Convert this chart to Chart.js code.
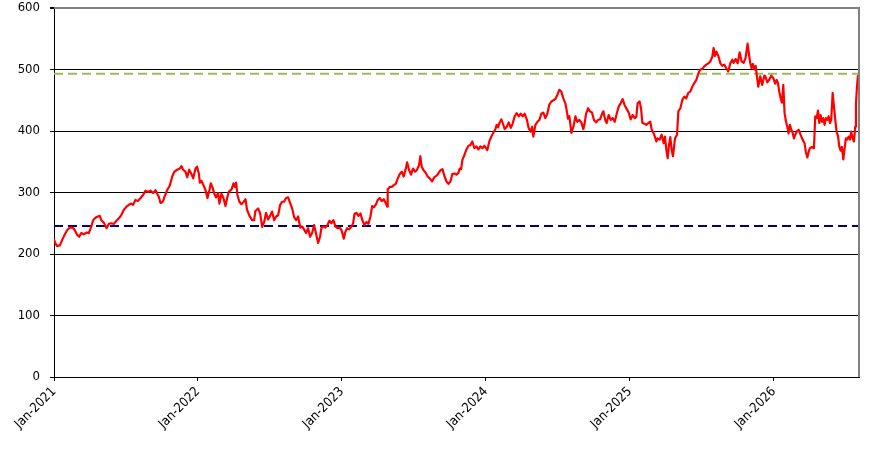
<!DOCTYPE html>
<html>
<head>
<meta charset="utf-8">
<script src="https://cdn.jsdelivr.net/npm/chart.js@4.4.1/dist/chart.umd.min.js"></script>
<style>
html,body{margin:0;padding:0;background:#fff;}
canvas{display:block;}
</style>
</head>
<body>
<canvas id="c" width="883" height="449"></canvas>
<script>
// ---- data ----
const startYear = 2021;
const endOffset = 5.592;            // last date shown (~Aug 2026), in years after Jan 2021
const tickYears = [2021, 2022, 2023, 2024, 2025, 2026];
const yTicks = [0, 100, 200, 300, 400, 500, 600];
const lowLevel = 245.5;             // blue dashed reference line
const highLevel = 493;              // green dashed reference line

// time in years after 1 Jan 2021, price
const t2021 = [0.000,0.010,0.022,0.041,0.057,0.073,0.092,0.110,0.129,0.142,0.161,0.175,0.189,0.207,0.226,0.242,0.258,0.272,0.288,0.304,0.318,0.328,0.346,0.365,0.381,0.397,0.416,0.434,0.450,0.467,0.485,0.504,0.520,0.536,0.550,0.566,0.582,0.601,0.619,0.635,0.652,0.670,0.689,0.705,0.717,0.728,0.740,0.756,0.767,0.786,0.804,0.821,0.837,0.855,0.874,0.885,0.897,0.913,0.925,0.939,0.953,0.967,0.983,0.994,1.006,1.013];
const v2021 = [224,217,213,214,223,231,239,243,243,240,231,228,234,232,235,234,244,255,259,261,262,255,251,242,249,250,249,254,258,263,272,277,280,282,280,288,286,291,296,303,301,303,299,304,298,293,283,285,293,304,311,326,334,337,339,343,337,334,325,337,331,323,339,342,331,316];

const t2022 = [1.024,1.038,1.052,1.066,1.080,1.089,1.103,1.112,1.126,1.140,1.149,1.163,1.177,1.191,1.203,1.214,1.233,1.247,1.256,1.265,1.274,1.288,1.302,1.318,1.330,1.341,1.358,1.376,1.390,1.399,1.418,1.432,1.446,1.460,1.473,1.487,1.501,1.515,1.529,1.543,1.557,1.571,1.585,1.598,1.612,1.626,1.640,1.654,1.668,1.682,1.696,1.710,1.723,1.737,1.751,1.765,1.779,1.793,1.807,1.821,1.835,1.848,1.858,1.872,1.885,1.899,1.913,1.927,1.941,1.955,1.969,1.983,1.997];
const v2022 = [319,312,304,291,304,315,307,299,292,299,282,298,291,278,291,301,305,315,309,316,296,285,281,285,289,272,262,255,255,270,274,266,244,252,267,256,262,269,255,261,263,280,285,285,291,292,283,274,260,255,261,243,245,240,234,242,228,234,247,232,218,228,243,245,243,247,254,250,255,245,242,243,239];

const t2023 = [2.013,2.024,2.036,2.050,2.064,2.078,2.087,2.101,2.115,2.129,2.142,2.156,2.170,2.184,2.198,2.210,2.221,2.235,2.249,2.263,2.277,2.291,2.304,2.314,2.318,2.332,2.346,2.360,2.374,2.388,2.402,2.416,2.429,2.443,2.453,2.466,2.480,2.494,2.508,2.522,2.536,2.545,2.554,2.568,2.582,2.596,2.610,2.626,2.642,2.656,2.670,2.684,2.698,2.712,2.726,2.740,2.754,2.767,2.781,2.795,2.809,2.818,2.828,2.837,2.851,2.865,2.879,2.892,2.906,2.920,2.934,2.948,2.962,2.976,2.990];
const v2023 = [225,236,242,240,244,250,265,267,262,266,255,247,252,249,261,278,276,280,288,291,286,289,283,277,305,309,309,312,314,323,330,334,326,338,349,337,329,339,334,337,345,359,342,336,332,326,323,318,325,327,331,336,338,327,318,314,318,330,331,329,332,339,338,353,361,370,376,377,383,372,375,370,375,372,376];

const t2024 = [3.010,3.024,3.038,3.052,3.066,3.075,3.085,3.094,3.108,3.117,3.131,3.145,3.159,3.173,3.186,3.200,3.214,3.228,3.242,3.256,3.270,3.284,3.297,3.311,3.321,3.330,3.344,3.358,3.372,3.385,3.399,3.413,3.427,3.441,3.455,3.469,3.483,3.497,3.510,3.524,3.538,3.552,3.561,3.571,3.580,3.594,3.608,3.622,3.635,3.649,3.663,3.677,3.686,3.696,3.710,3.723,3.737,3.751,3.765,3.779,3.793,3.807,3.816,3.830,3.839,3.853,3.867,3.881,3.895,3.909,3.923,3.936,3.950,3.964,3.978,3.992,4.006,4.020,4.034];
const v2024 = [369,383,391,397,403,410,406,413,419,413,403,407,414,405,412,424,429,424,428,424,428,419,405,399,407,391,410,415,418,428,430,421,428,443,448,450,452,459,467,464,453,445,434,420,424,397,407,424,415,418,414,403,412,428,437,432,430,418,414,418,419,428,432,417,413,426,418,421,415,428,440,445,452,442,436,430,419,426,421];

const t2025 = [4.045,4.054,4.068,4.078,4.087,4.101,4.115,4.129,4.142,4.152,4.166,4.175,4.184,4.193,4.207,4.221,4.235,4.244,4.254,4.263,4.272,4.281,4.291,4.300,4.314,4.328,4.337,4.351,4.365,4.379,4.392,4.406,4.420,4.434,4.448,4.462,4.476,4.490,4.504,4.517,4.531,4.545,4.559,4.573,4.582,4.591,4.601,4.615,4.629,4.642,4.656,4.670,4.684,4.698,4.712,4.721,4.735,4.749,4.763,4.777,4.791,4.804,4.818,4.828,4.837,4.846,4.855,4.865,4.874,4.883,4.892,4.906,4.920,4.934];
const v2025 = [423,445,448,437,413,412,410,413,415,402,396,390,383,388,386,394,380,391,369,356,377,390,369,359,388,394,432,437,451,456,453,462,464,472,478,483,494,500,501,505,508,510,513,521,535,522,529,522,510,506,508,502,497,510,516,511,517,510,528,513,511,519,542,524,510,502,509,500,506,489,472,489,475,490];

const t2026 = [4.941,4.955,4.969,4.983,4.997,5.010,5.020,5.029,5.038,5.048,5.057,5.066,5.075,5.085,5.094,5.103,5.112,5.122,5.131,5.140,5.149,5.159,5.173,5.186,5.200,5.214,5.223,5.233,5.242,5.251,5.265,5.279,5.288,5.298,5.307,5.316,5.325,5.335,5.344,5.353,5.362,5.372,5.381,5.390,5.399,5.409,5.418,5.427,5.436,5.446,5.455,5.464,5.473,5.483,5.492,5.501,5.510,5.520,5.529,5.538,5.548,5.557,5.566,5.571,5.578,5.585];
const v2026 = [489,479,484,490,486,477,483,478,464,453,446,475,429,415,407,396,410,402,397,388,394,399,402,394,386,380,366,357,366,372,374,372,424,421,433,413,426,415,421,410,421,418,424,413,418,462,440,419,399,392,375,368,374,354,372,388,386,391,386,399,388,383,407,445,472,491];

// ---- build series ----
const times = [].concat(t2021, t2022, t2023, t2024, t2025, t2026);
const prices = [].concat(v2021, v2022, v2023, v2024, v2025, v2026);
const priceData = times.map((t, i) => ({ x: startYear + t, y: prices[i] }));
const xMin = startYear, xMax = startYear + endOffset;

const FONT = { family: "'DejaVu Sans Condensed','DejaVu Sans',sans-serif", size: 13 };

const frame = {
  id: 'frame',
  afterDraw(chart) {
    const a = chart.chartArea, ctx = chart.ctx;
    ctx.save();
    ctx.strokeStyle = '#808080';
    ctx.lineWidth = 2;
    ctx.beginPath();
    ctx.moveTo(a.left, a.top);
    ctx.lineTo(a.right, a.top);
    ctx.lineTo(a.right, a.bottom);
    ctx.stroke();
    ctx.restore();
  }
};

new Chart(document.getElementById('c'), {
  type: 'line',
  data: {
    datasets: [
      { data: priceData, borderColor: '#ff0000', borderWidth: 2.2, pointRadius: 0, tension: 0, borderJoinStyle: 'round' },
      { data: [{x: xMin, y: highLevel}, {x: xMax, y: highLevel}], borderColor: '#9bbb59', borderWidth: 2, borderDash: [9, 5], pointRadius: 0 },
      { data: [{x: xMin, y: lowLevel}, {x: xMax, y: lowLevel}], borderColor: '#000080', borderWidth: 2, borderDash: [9, 5], pointRadius: 0 }
    ]
  },
  options: {
    responsive: false,
    animation: false,
    devicePixelRatio: 1,
    layout: { padding: { top: 8, right: 24, left: 0, bottom: 0 } },
    plugins: { legend: { display: false }, tooltip: { enabled: false } },
    scales: {
      x: {
        type: 'linear',
        min: xMin,
        max: xMax,
        afterBuildTicks: s => { s.ticks = tickYears.map(v => ({ value: v })); },
        afterFit: s => { s.height = 72; s.paddingRight = 0; },
        grid: { drawOnChartArea: false, drawTicks: true, tickLength: 4, tickColor: '#000' },
        border: { color: '#000', width: 1 },
        ticks: {
          autoSkip: false, maxRotation: 45, minRotation: 45, padding: 3,
          color: '#000', font: FONT,
          callback: v => 'Jan-' + v
        }
      },
      y: {
        min: 0,
        max: 600,
        afterBuildTicks: s => { s.ticks = yTicks.map(v => ({ value: v })); },
        afterFit: s => { s.width = 54; s.paddingTop = 0; s.paddingBottom = 0; },
        grid: {
          color: c => (c.tick && c.tick.value === 600) ? '#808080' : '#000',
          lineWidth: c => (c.tick && c.tick.value === 600) ? 2 : 1,
          tickLength: 4, tickColor: '#000'
        },
        border: { color: '#000', width: 1 },
        ticks: { padding: 10, color: '#000', font: FONT }
      }
    }
  },
  plugins: [frame]
});
</script>
</body>
</html>
